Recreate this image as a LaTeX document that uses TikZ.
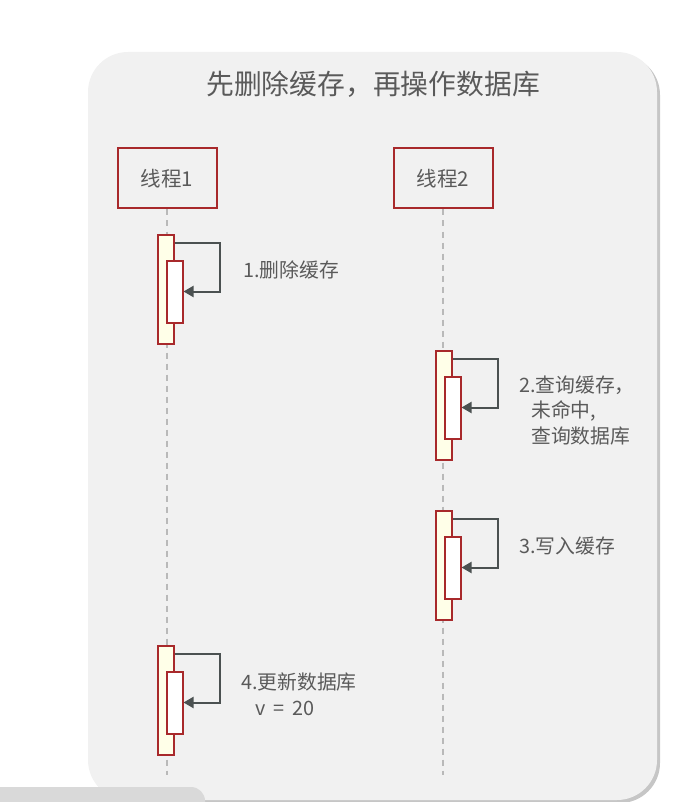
\documentclass[tikz,border=0pt]{standalone}
\usepackage{fontspec}
\setmainfont{Noto Sans CJK SC}
\usepackage{tikz}
\usetikzlibrary{arrows.meta}

\definecolor{panelgray}{HTML}{F1F1F1}
\definecolor{boxred}{HTML}{A8292B}
\definecolor{actfill}{HTML}{FFFFE8}
\definecolor{msggray}{HTML}{4B5151}
\definecolor{txtgray}{HTML}{5A5A5A}

\begin{document}
\begin{tikzpicture}[x=1pt,y=-1pt,
  thread/.style={draw=boxred,line width=2pt,minimum width=99pt,minimum height=60pt,inner sep=0pt,font=\fontsize{20.5}{24}\selectfont,text=txtgray},
  outerbar/.style={draw=boxred,line width=2pt,fill=actfill,minimum width=16pt,minimum height=109pt,inner sep=0pt},
  innerbar/.style={draw=boxred,line width=2pt,fill=white,minimum width=16pt,minimum height=62pt,inner sep=0pt},
  msg/.style={draw=msggray,line width=2pt,-{Triangle[length=10pt,width=11pt]}},
  lifeline/.style={gray!55,line width=1.4pt,dash pattern=on 6pt off 5pt},
  lbl/.style={anchor=west,align=left,inner sep=0pt,text=txtgray,font=\fontsize{19.8}{25.5}\selectfont}]
  \useasboundingbox (0,0) rectangle (699,802);
  \clip (0,0) rectangle (699,802);
  % Panel with shadow
  \fill[gray!45,rounded corners=40pt] (91,55) rectangle (660,803);
  \fill[panelgray,rounded corners=40pt] (88,52) rectangle (657,800);
  \fill[gray!30,rounded corners=14pt] (-20,787) rectangle (205,830);
  \node[text=txtgray,font=\fontsize{27.8}{30}\selectfont] (title) at (373,84) {先删除缓存，再操作数据库};
  % Threads and lifelines
  \node[thread] (t1) at (167,178.5) {线程1};
  \node[thread] (t2) at (443,178.5) {线程2};
  \coordinate (e1) at (167,775);
  \coordinate (e2) at (443,775);
  \draw[lifeline] (t1.south) -- (e1);
  \draw[lifeline] (t2.south) -- (e2);
  % Activations
  \node[outerbar] (o1) at (165.5,289) {};
  \node[innerbar] (i1) at (174.5,291.5) {};
  \node[outerbar] (o2) at (443.5,405) {};
  \node[innerbar] (i2) at (452.5,407.5) {};
  \node[outerbar] (o3) at (443.5,565) {};
  \node[innerbar] (i3) at (452.5,567.5) {};
  \node[outerbar] (o4) at (165.5,700) {};
  \node[innerbar] (i4) at (174.5,702.5) {};
  % Self messages
  \draw[msg] ([yshift=-9pt]o1.north east) -- ++(45,0) |- (i1.east);
  \draw[msg] ([yshift=-9pt]o2.north east) -- ++(45,0) |- (i2.east);
  \draw[msg] ([yshift=-9pt]o3.north east) -- ++(45,0) |- (i3.east);
  \draw[msg] ([yshift=-9pt]o4.north east) -- ++(45,0) |- (i4.east);
  \node[lbl] (l1) at (243,270) {1.删除缓存};
  \node[lbl] (l2) at (519,410.5) {2.查询缓存，\\\hspace{12pt}未命中,\\\hspace{12pt}查询数据库};
  \node[lbl] (l3) at (519,546) {3.写入缓存};
  \node[lbl] (l4) at (241,694.5) {4.更新数据库\\\hspace{14pt}v\hspace{8pt}=\hspace{8pt}20};
\end{tikzpicture}
\end{document}
